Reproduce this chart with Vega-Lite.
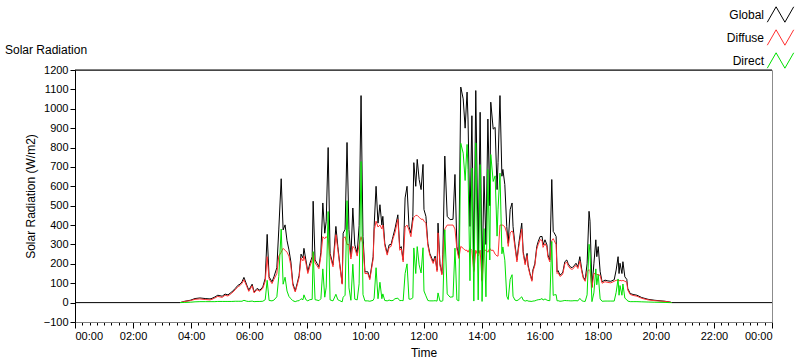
{
  "$schema": "https://vega.github.io/schema/vega-lite/v6.json",
  "width": 697,
  "height": 252,
  "autosize": {"type": "none"},
  "padding": {"left": 75, "top": 70, "right": 28, "bottom": 39},
  "background": "#ffffff",
  "config": {
    "font": "Liberation Sans",
    "view": {"stroke": "#8c8c8c", "strokeWidth": 1},
    "axis": {"labelFont": "Liberation Sans", "labelFontSize": 11, "labelColor": "#000000", "titleFont": "Liberation Sans", "titleFontSize": 12, "titleFontWeight": "normal", "titleColor": "#000000", "grid": false}
  },
  "title": {"text": "Solar Radiation", "anchor": "start", "frame": "group", "dx": -70, "dy": 62, "offset": 8, "font": "Liberation Sans", "fontSize": 12, "fontWeight": "normal", "color": "#000000"},
  "layer": [
    {
      "data": {"values": [
        {"t":"2024-01-01T00:00","Global":0},
        {"t":"2024-01-01T03:37","Global":0,"Diffuse":0,"Direct":0},
        {"t":"2024-01-01T03:47","Global":7,"Diffuse":6,"Direct":1},
        {"t":"2024-01-01T03:58","Global":12,"Diffuse":10,"Direct":2},
        {"t":"2024-01-01T04:08","Global":21,"Diffuse":17,"Direct":4},
        {"t":"2024-01-01T04:18","Global":24,"Diffuse":19,"Direct":5},
        {"t":"2024-01-01T04:29","Global":21,"Diffuse":16,"Direct":5},
        {"t":"2024-01-01T04:39","Global":19,"Diffuse":14,"Direct":5},
        {"t":"2024-01-01T04:43","Global":22,"Diffuse":17,"Direct":5},
        {"t":"2024-01-01T04:49","Global":29,"Diffuse":24,"Direct":5},
        {"t":"2024-01-01T04:55","Global":38,"Diffuse":32,"Direct":6},
        {"t":"2024-01-01T05:04","Global":33,"Diffuse":27,"Direct":6},
        {"t":"2024-01-01T05:10","Global":44,"Diffuse":38,"Direct":6},
        {"t":"2024-01-01T05:16","Global":40,"Diffuse":34,"Direct":6},
        {"t":"2024-01-01T05:24","Global":55,"Diffuse":49,"Direct":6},
        {"t":"2024-01-01T05:31","Global":73,"Diffuse":66,"Direct":7},
        {"t":"2024-01-01T05:37","Global":90,"Diffuse":83,"Direct":7},
        {"t":"2024-01-01T05:41","Global":95,"Diffuse":88,"Direct":7},
        {"t":"2024-01-01T05:45","Global":107,"Diffuse":100,"Direct":7},
        {"t":"2024-01-01T05:49","Global":130,"Diffuse":118,"Direct":12},
        {"t":"2024-01-01T05:55","Global":90,"Diffuse":83,"Direct":7},
        {"t":"2024-01-01T05:59","Global":64,"Diffuse":58,"Direct":6},
        {"t":"2024-01-01T06:06","Global":95,"Diffuse":87,"Direct":8},
        {"t":"2024-01-01T06:10","Global":55,"Diffuse":50,"Direct":5},
        {"t":"2024-01-01T06:16","Global":73,"Diffuse":67,"Direct":6},
        {"t":"2024-01-01T06:22","Global":64,"Diffuse":58,"Direct":6},
        {"t":"2024-01-01T06:28","Global":81,"Diffuse":74,"Direct":7},
        {"t":"2024-01-01T06:33","Global":125,"Diffuse":110,"Direct":15},
        {"t":"2024-01-01T06:37","Global":352,"Diffuse":237,"Direct":115},
        {"t":"2024-01-01T06:41","Global":133,"Diffuse":122,"Direct":11},
        {"t":"2024-01-01T06:47","Global":107,"Diffuse":98,"Direct":9},
        {"t":"2024-01-01T06:51","Global":133,"Diffuse":120,"Direct":13},
        {"t":"2024-01-01T06:57","Global":180,"Diffuse":150,"Direct":30},
        {"t":"2024-01-01T07:01","Global":375,"Diffuse":240,"Direct":135},
        {"t":"2024-01-01T07:06","Global":639,"Diffuse":260,"Direct":379},
        {"t":"2024-01-01T07:10","Global":375,"Diffuse":280,"Direct":95},
        {"t":"2024-01-01T07:14","Global":401,"Diffuse":270,"Direct":131},
        {"t":"2024-01-01T07:18","Global":320,"Diffuse":260,"Direct":60},
        {"t":"2024-01-01T07:22","Global":272,"Diffuse":240,"Direct":32},
        {"t":"2024-01-01T07:26","Global":210,"Diffuse":190,"Direct":20},
        {"t":"2024-01-01T07:30","Global":100,"Diffuse":90,"Direct":10},
        {"t":"2024-01-01T07:35","Global":60,"Diffuse":55,"Direct":5},
        {"t":"2024-01-01T07:39","Global":99,"Diffuse":90,"Direct":9},
        {"t":"2024-01-01T07:43","Global":140,"Diffuse":130,"Direct":10},
        {"t":"2024-01-01T07:47","Global":250,"Diffuse":230,"Direct":20},
        {"t":"2024-01-01T07:51","Global":230,"Diffuse":215,"Direct":15},
        {"t":"2024-01-01T07:53","Global":280,"Diffuse":240,"Direct":40},
        {"t":"2024-01-01T07:57","Global":220,"Diffuse":205,"Direct":15},
        {"t":"2024-01-01T08:01","Global":159,"Diffuse":150,"Direct":9},
        {"t":"2024-01-01T08:05","Global":200,"Diffuse":185,"Direct":15},
        {"t":"2024-01-01T08:10","Global":237,"Diffuse":220,"Direct":17},
        {"t":"2024-01-01T08:12","Global":523,"Diffuse":260,"Direct":263},
        {"t":"2024-01-01T08:16","Global":220,"Diffuse":205,"Direct":15},
        {"t":"2024-01-01T08:20","Global":203,"Diffuse":190,"Direct":13},
        {"t":"2024-01-01T08:24","Global":185,"Diffuse":175,"Direct":10},
        {"t":"2024-01-01T08:28","Global":260,"Diffuse":240,"Direct":20},
        {"t":"2024-01-01T08:32","Global":514,"Diffuse":340,"Direct":174},
        {"t":"2024-01-01T08:36","Global":358,"Diffuse":330,"Direct":28},
        {"t":"2024-01-01T08:39","Global":420,"Diffuse":340,"Direct":80},
        {"t":"2024-01-01T08:43","Global":800,"Diffuse":330,"Direct":470},
        {"t":"2024-01-01T08:47","Global":254,"Diffuse":240,"Direct":14},
        {"t":"2024-01-01T08:53","Global":194,"Diffuse":185,"Direct":9},
        {"t":"2024-01-01T08:59","Global":393,"Diffuse":350,"Direct":43},
        {"t":"2024-01-01T09:03","Global":290,"Diffuse":275,"Direct":15},
        {"t":"2024-01-01T09:07","Global":200,"Diffuse":190,"Direct":10},
        {"t":"2024-01-01T09:12","Global":99,"Diffuse":95,"Direct":4},
        {"t":"2024-01-01T09:14","Global":358,"Diffuse":330,"Direct":28},
        {"t":"2024-01-01T09:18","Global":378,"Diffuse":340,"Direct":38},
        {"t":"2024-01-01T09:22","Global":826,"Diffuse":300,"Direct":526},
        {"t":"2024-01-01T09:26","Global":376,"Diffuse":300,"Direct":76},
        {"t":"2024-01-01T09:30","Global":237,"Diffuse":225,"Direct":12},
        {"t":"2024-01-01T09:34","Global":488,"Diffuse":290,"Direct":198},
        {"t":"2024-01-01T09:38","Global":298,"Diffuse":280,"Direct":18},
        {"t":"2024-01-01T09:43","Global":254,"Diffuse":240,"Direct":14},
        {"t":"2024-01-01T09:47","Global":397,"Diffuse":300,"Direct":97},
        {"t":"2024-01-01T09:51","Global":1068,"Diffuse":340,"Direct":728},
        {"t":"2024-01-01T09:55","Global":341,"Diffuse":300,"Direct":41},
        {"t":"2024-01-01T09:59","Global":159,"Diffuse":150,"Direct":9},
        {"t":"2024-01-01T10:05","Global":159,"Diffuse":150,"Direct":9},
        {"t":"2024-01-01T10:09","Global":125,"Diffuse":118,"Direct":7},
        {"t":"2024-01-01T10:16","Global":237,"Diffuse":225,"Direct":12},
        {"t":"2024-01-01T10:18","Global":393,"Diffuse":370,"Direct":23},
        {"t":"2024-01-01T10:22","Global":600,"Diffuse":420,"Direct":180},
        {"t":"2024-01-01T10:26","Global":410,"Diffuse":390,"Direct":20},
        {"t":"2024-01-01T10:30","Global":505,"Diffuse":400,"Direct":105},
        {"t":"2024-01-01T10:34","Global":400,"Diffuse":380,"Direct":20},
        {"t":"2024-01-01T10:36","Global":445,"Diffuse":400,"Direct":45},
        {"t":"2024-01-01T10:40","Global":306,"Diffuse":295,"Direct":11},
        {"t":"2024-01-01T10:45","Global":254,"Diffuse":245,"Direct":9},
        {"t":"2024-01-01T10:49","Global":298,"Diffuse":285,"Direct":13},
        {"t":"2024-01-01T10:53","Global":300,"Diffuse":290,"Direct":10},
        {"t":"2024-01-01T10:57","Global":341,"Diffuse":330,"Direct":11},
        {"t":"2024-01-01T11:01","Global":380,"Diffuse":360,"Direct":20},
        {"t":"2024-01-01T11:07","Global":453,"Diffuse":430,"Direct":23},
        {"t":"2024-01-01T11:11","Global":280,"Diffuse":270,"Direct":10},
        {"t":"2024-01-01T11:14","Global":289,"Diffuse":278,"Direct":11},
        {"t":"2024-01-01T11:18","Global":220,"Diffuse":210,"Direct":10},
        {"t":"2024-01-01T11:22","Global":540,"Diffuse":390,"Direct":150},
        {"t":"2024-01-01T11:26","Global":600,"Diffuse":400,"Direct":200},
        {"t":"2024-01-01T11:30","Global":393,"Diffuse":375,"Direct":18},
        {"t":"2024-01-01T11:34","Global":358,"Diffuse":340,"Direct":18},
        {"t":"2024-01-01T11:38","Global":445,"Diffuse":420,"Direct":25},
        {"t":"2024-01-01T11:40","Global":722,"Diffuse":440,"Direct":282},
        {"t":"2024-01-01T11:44","Global":600,"Diffuse":450,"Direct":150},
        {"t":"2024-01-01T11:47","Global":739,"Diffuse":450,"Direct":289},
        {"t":"2024-01-01T11:51","Global":635,"Diffuse":440,"Direct":195},
        {"t":"2024-01-01T11:55","Global":583,"Diffuse":430,"Direct":153},
        {"t":"2024-01-01T11:59","Global":713,"Diffuse":430,"Direct":283},
        {"t":"2024-01-01T12:01","Global":480,"Diffuse":420,"Direct":60},
        {"t":"2024-01-01T12:05","Global":445,"Diffuse":410,"Direct":35},
        {"t":"2024-01-01T12:09","Global":306,"Diffuse":295,"Direct":11},
        {"t":"2024-01-01T12:13","Global":254,"Diffuse":245,"Direct":9},
        {"t":"2024-01-01T12:20","Global":211,"Diffuse":202,"Direct":9},
        {"t":"2024-01-01T12:24","Global":240,"Diffuse":230,"Direct":10},
        {"t":"2024-01-01T12:28","Global":168,"Diffuse":160,"Direct":8},
        {"t":"2024-01-01T12:30","Global":410,"Diffuse":360,"Direct":50},
        {"t":"2024-01-01T12:34","Global":200,"Diffuse":192,"Direct":8},
        {"t":"2024-01-01T12:38","Global":150,"Diffuse":143,"Direct":7},
        {"t":"2024-01-01T12:40","Global":250,"Diffuse":240,"Direct":10},
        {"t":"2024-01-01T12:44","Global":756,"Diffuse":380,"Direct":376},
        {"t":"2024-01-01T12:49","Global":445,"Diffuse":400,"Direct":45},
        {"t":"2024-01-01T12:55","Global":428,"Diffuse":400,"Direct":28},
        {"t":"2024-01-01T13:01","Global":430,"Diffuse":400,"Direct":30},
        {"t":"2024-01-01T13:05","Global":661,"Diffuse":380,"Direct":281},
        {"t":"2024-01-01T13:09","Global":289,"Diffuse":275,"Direct":14},
        {"t":"2024-01-01T13:13","Global":237,"Diffuse":228,"Direct":9},
        {"t":"2024-01-01T13:17","Global":1112,"Diffuse":290,"Direct":822},
        {"t":"2024-01-01T13:22","Global":1051,"Diffuse":280,"Direct":771},
        {"t":"2024-01-01T13:26","Global":900,"Diffuse":270,"Direct":630},
        {"t":"2024-01-01T13:30","Global":1086,"Diffuse":270,"Direct":816},
        {"t":"2024-01-01T13:32","Global":947,"Diffuse":260,"Direct":687},
        {"t":"2024-01-01T13:36","Global":393,"Diffuse":280,"Direct":113},
        {"t":"2024-01-01T13:40","Global":964,"Diffuse":270,"Direct":694},
        {"t":"2024-01-01T13:44","Global":168,"Diffuse":160,"Direct":8},
        {"t":"2024-01-01T13:48","Global":1094,"Diffuse":270,"Direct":824},
        {"t":"2024-01-01T13:53","Global":254,"Diffuse":240,"Direct":14},
        {"t":"2024-01-01T13:57","Global":982,"Diffuse":270,"Direct":712},
        {"t":"2024-01-01T14:01","Global":116,"Diffuse":110,"Direct":6},
        {"t":"2024-01-01T14:05","Global":652,"Diffuse":270,"Direct":382},
        {"t":"2024-01-01T14:09","Global":300,"Diffuse":270,"Direct":30},
        {"t":"2024-01-01T14:13","Global":947,"Diffuse":260,"Direct":687},
        {"t":"2024-01-01T14:17","Global":500,"Diffuse":280,"Direct":220},
        {"t":"2024-01-01T14:19","Global":1034,"Diffuse":270,"Direct":764},
        {"t":"2024-01-01T14:24","Global":895,"Diffuse":270,"Direct":625},
        {"t":"2024-01-01T14:28","Global":904,"Diffuse":250,"Direct":654},
        {"t":"2024-01-01T14:32","Global":583,"Diffuse":240,"Direct":343},
        {"t":"2024-01-01T14:34","Global":722,"Diffuse":240,"Direct":482},
        {"t":"2024-01-01T14:38","Global":1068,"Diffuse":400,"Direct":668},
        {"t":"2024-01-01T14:42","Global":652,"Diffuse":400,"Direct":252},
        {"t":"2024-01-01T14:44","Global":687,"Diffuse":400,"Direct":287},
        {"t":"2024-01-01T14:48","Global":609,"Diffuse":390,"Direct":219},
        {"t":"2024-01-01T14:52","Global":393,"Diffuse":360,"Direct":33},
        {"t":"2024-01-01T14:55","Global":306,"Diffuse":290,"Direct":16},
        {"t":"2024-01-01T14:59","Global":480,"Diffuse":360,"Direct":120},
        {"t":"2024-01-01T15:03","Global":514,"Diffuse":370,"Direct":144},
        {"t":"2024-01-01T15:05","Global":393,"Diffuse":360,"Direct":33},
        {"t":"2024-01-01T15:09","Global":298,"Diffuse":285,"Direct":13},
        {"t":"2024-01-01T15:13","Global":220,"Diffuse":210,"Direct":10},
        {"t":"2024-01-01T15:17","Global":306,"Diffuse":290,"Direct":16},
        {"t":"2024-01-01T15:23","Global":410,"Diffuse":380,"Direct":30},
        {"t":"2024-01-01T15:26","Global":263,"Diffuse":250,"Direct":13},
        {"t":"2024-01-01T15:30","Global":203,"Diffuse":195,"Direct":8},
        {"t":"2024-01-01T15:34","Global":254,"Diffuse":243,"Direct":11},
        {"t":"2024-01-01T15:36","Global":194,"Diffuse":186,"Direct":8},
        {"t":"2024-01-01T15:40","Global":150,"Diffuse":143,"Direct":7},
        {"t":"2024-01-01T15:44","Global":116,"Diffuse":110,"Direct":6},
        {"t":"2024-01-01T15:46","Global":168,"Diffuse":160,"Direct":8},
        {"t":"2024-01-01T15:50","Global":200,"Diffuse":191,"Direct":9},
        {"t":"2024-01-01T15:54","Global":289,"Diffuse":276,"Direct":13},
        {"t":"2024-01-01T15:57","Global":315,"Diffuse":300,"Direct":15},
        {"t":"2024-01-01T16:01","Global":341,"Diffuse":325,"Direct":16},
        {"t":"2024-01-01T16:05","Global":341,"Diffuse":320,"Direct":21},
        {"t":"2024-01-01T16:07","Global":298,"Diffuse":285,"Direct":13},
        {"t":"2024-01-01T16:11","Global":324,"Diffuse":305,"Direct":19},
        {"t":"2024-01-01T16:15","Global":298,"Diffuse":285,"Direct":13},
        {"t":"2024-01-01T16:17","Global":246,"Diffuse":235,"Direct":11},
        {"t":"2024-01-01T16:21","Global":220,"Diffuse":210,"Direct":10},
        {"t":"2024-01-01T16:25","Global":635,"Diffuse":320,"Direct":315},
        {"t":"2024-01-01T16:28","Global":367,"Diffuse":330,"Direct":37},
        {"t":"2024-01-01T16:30","Global":360,"Diffuse":320,"Direct":40},
        {"t":"2024-01-01T16:34","Global":341,"Diffuse":300,"Direct":41},
        {"t":"2024-01-01T16:36","Global":159,"Diffuse":150,"Direct":9},
        {"t":"2024-01-01T16:38","Global":165,"Diffuse":155,"Direct":10},
        {"t":"2024-01-01T16:42","Global":142,"Diffuse":135,"Direct":7},
        {"t":"2024-01-01T16:46","Global":150,"Diffuse":142,"Direct":8},
        {"t":"2024-01-01T16:48","Global":159,"Diffuse":150,"Direct":9},
        {"t":"2024-01-01T16:52","Global":211,"Diffuse":200,"Direct":11},
        {"t":"2024-01-01T16:56","Global":220,"Diffuse":210,"Direct":10},
        {"t":"2024-01-01T16:59","Global":200,"Diffuse":190,"Direct":10},
        {"t":"2024-01-01T17:03","Global":185,"Diffuse":176,"Direct":9},
        {"t":"2024-01-01T17:07","Global":180,"Diffuse":171,"Direct":9},
        {"t":"2024-01-01T17:11","Global":190,"Diffuse":180,"Direct":10},
        {"t":"2024-01-01T17:15","Global":203,"Diffuse":193,"Direct":10},
        {"t":"2024-01-01T17:19","Global":185,"Diffuse":176,"Direct":9},
        {"t":"2024-01-01T17:23","Global":237,"Diffuse":215,"Direct":22},
        {"t":"2024-01-01T17:27","Global":170,"Diffuse":160,"Direct":10},
        {"t":"2024-01-01T17:30","Global":133,"Diffuse":126,"Direct":7},
        {"t":"2024-01-01T17:34","Global":116,"Diffuse":110,"Direct":6},
        {"t":"2024-01-01T17:38","Global":200,"Diffuse":160,"Direct":40},
        {"t":"2024-01-01T17:42","Global":471,"Diffuse":170,"Direct":301},
        {"t":"2024-01-01T17:44","Global":420,"Diffuse":165,"Direct":255},
        {"t":"2024-01-01T17:48","Global":81,"Diffuse":76,"Direct":5},
        {"t":"2024-01-01T17:52","Global":200,"Diffuse":150,"Direct":50},
        {"t":"2024-01-01T17:56","Global":324,"Diffuse":150,"Direct":174},
        {"t":"2024-01-01T17:58","Global":237,"Diffuse":145,"Direct":92},
        {"t":"2024-01-01T18:01","Global":289,"Diffuse":145,"Direct":144},
        {"t":"2024-01-01T18:05","Global":159,"Diffuse":140,"Direct":19},
        {"t":"2024-01-01T18:09","Global":107,"Diffuse":100,"Direct":7},
        {"t":"2024-01-01T18:15","Global":116,"Diffuse":108,"Direct":8},
        {"t":"2024-01-01T18:21","Global":112,"Diffuse":104,"Direct":8},
        {"t":"2024-01-01T18:27","Global":110,"Diffuse":102,"Direct":8},
        {"t":"2024-01-01T18:34","Global":118,"Diffuse":110,"Direct":8},
        {"t":"2024-01-01T18:38","Global":168,"Diffuse":115,"Direct":53},
        {"t":"2024-01-01T18:42","Global":237,"Diffuse":115,"Direct":122},
        {"t":"2024-01-01T18:44","Global":150,"Diffuse":112,"Direct":38},
        {"t":"2024-01-01T18:46","Global":203,"Diffuse":115,"Direct":88},
        {"t":"2024-01-01T18:50","Global":150,"Diffuse":112,"Direct":38},
        {"t":"2024-01-01T18:52","Global":211,"Diffuse":115,"Direct":96},
        {"t":"2024-01-01T18:56","Global":133,"Diffuse":110,"Direct":23},
        {"t":"2024-01-01T19:00","Global":120,"Diffuse":105,"Direct":15},
        {"t":"2024-01-01T19:02","Global":73,"Diffuse":65,"Direct":8},
        {"t":"2024-01-01T19:07","Global":47,"Diffuse":42,"Direct":5},
        {"t":"2024-01-01T19:13","Global":42,"Diffuse":37,"Direct":5},
        {"t":"2024-01-01T19:21","Global":38,"Diffuse":33,"Direct":5},
        {"t":"2024-01-01T19:31","Global":26,"Diffuse":22,"Direct":4},
        {"t":"2024-01-01T19:44","Global":17,"Diffuse":14,"Direct":3},
        {"t":"2024-01-01T19:58","Global":12,"Diffuse":10,"Direct":2},
        {"t":"2024-01-01T20:19","Global":7,"Diffuse":6,"Direct":1},
        {"t":"2024-01-01T20:29","Global":3,"Diffuse":3,"Direct":0},
        {"t":"2024-01-01T20:33","Global":0,"Diffuse":0,"Direct":0},
        {"t":"2024-01-02T00:00","Global":0}
      ]},
      "transform": [{"fold": ["Global", "Diffuse", "Direct"], "as": ["series", "value"]}],
      "mark": {"type": "line", "strokeWidth": 1},
      "encoding": {
        "x": {
          "field": "t", "type": "temporal", "title": "Time",
          "scale": {"domain": [{"year": 2024, "month": 1, "date": 1, "hours": 0}, {"year": 2024, "month": 1, "date": 2, "hours": 0}]},
          "axis": {
            "tickCount": 96,
            "labelExpr": "minutes(datum.value) == 0 && hours(datum.value) % 2 == 0 ? timeFormat(datum.value, '%H:%M') : ''",
            "labelOverlap": false,
            "tickSize": 6,
            "tickDash": {"condition": {"test": "minutes(datum.value) == 0 && hours(datum.value) % 2 == 0", "value": [6, 0]}, "value": [3, 6]},
            "tickColor": "#000000", "domainColor": "#808080",
            "labelPadding": 2, "titlePadding": 6, "labelFontSize": 11
          }
        },
        "y": {
          "field": "value", "type": "quantitative", "title": "Solar Radiation (W/m2)",
          "scale": {"domain": [-100, 1200], "nice": false},
          "axis": {
            "values": [-100, 0, 100, 200, 300, 400, 500, 600, 700, 800, 900, 1000, 1100, 1200],
            "format": "d", "labelOverlap": false,
            "tickSize": 5, "labelPadding": 2, "tickColor": "#000000", "domainColor": "#000000",
            "titlePadding": 6, "labelFontSize": 11
          }
        },
        "color": {
          "field": "series", "type": "nominal",
          "scale": {"domain": ["Global", "Diffuse", "Direct"], "range": ["#000000", "#ff3030", "#00e000"]},
          "legend": {
            "orient": "none", "legendX": 694, "legendY": -67, "title": null,
            "symbolType": "M-1.2,0.7L-0.4,-0.7L0.4,0.7L1.2,-0.7",
            "symbolSize": 484, "symbolStrokeWidth": 1, "symbolFillColor": "transparent",
            "labelAlign": "right", "labelOffset": -28, "rowPadding": 1,
            "labelFontSize": 12, "labelColor": "#000000"
          }
        }
      }
    },
    {
      "data": {"values": [{"top": 1200}]},
      "mark": {"type": "rule", "color": "#000000", "strokeWidth": 1},
      "encoding": {
        "y": {
          "field": "top", "type": "quantitative", "title": "Solar Radiation (W/m2)",
          "axis": {
            "values": [-100, 0, 100, 200, 300, 400, 500, 600, 700, 800, 900, 1000, 1100, 1200],
            "format": "d", "labelOverlap": false,
            "tickSize": 5, "labelPadding": 2, "tickColor": "#000000", "domainColor": "#000000",
            "titlePadding": 6, "labelFontSize": 11
          }
        }
      }
    }
  ]
}
